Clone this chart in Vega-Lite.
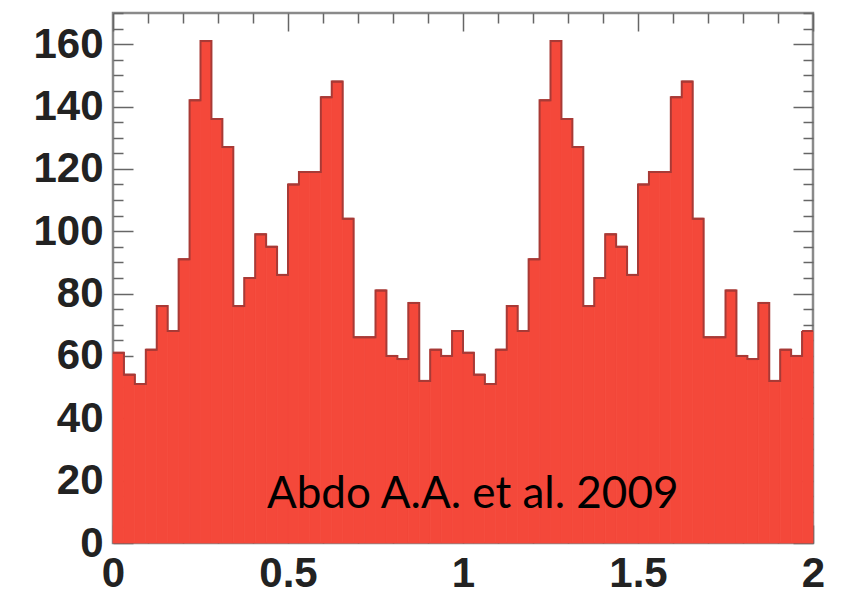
{
  "$schema": "https://vega.github.io/schema/vega-lite/v6.json",
  "width": 700,
  "height": 530,
  "autosize": {"type": "none"},
  "padding": {"left": 113, "top": 13, "right": 32, "bottom": 51},
  "background": "white",
  "config": {
    "view": {"stroke": "#8a8a8a", "strokeWidth": 2.5},
    "axis": {
      "domain": false,
      "grid": false,
      "tickColor": "#666666",
      "tickWidth": 1.5,
      "labelFont": "Liberation Sans",
      "labelFontWeight": "bold",
      "labelFontSize": 42,
      "labelColor": "#222222",
      "labelOverlap": false,
      "zindex": 1,
      "title": null
    }
  },
  "datasets": {
    "hist": [
      {"start": 0, "end": 0.03125, "count": 61},
      {"start": 0.03125, "end": 0.0625, "count": 54},
      {"start": 0.0625, "end": 0.09375, "count": 51},
      {"start": 0.09375, "end": 0.125, "count": 62},
      {"start": 0.125, "end": 0.15625, "count": 76},
      {"start": 0.15625, "end": 0.1875, "count": 68},
      {"start": 0.1875, "end": 0.21875, "count": 91},
      {"start": 0.21875, "end": 0.25, "count": 142},
      {"start": 0.25, "end": 0.28125, "count": 161},
      {"start": 0.28125, "end": 0.3125, "count": 136},
      {"start": 0.3125, "end": 0.34375, "count": 127},
      {"start": 0.34375, "end": 0.375, "count": 76},
      {"start": 0.375, "end": 0.40625, "count": 85},
      {"start": 0.40625, "end": 0.4375, "count": 99},
      {"start": 0.4375, "end": 0.46875, "count": 95},
      {"start": 0.46875, "end": 0.5, "count": 86},
      {"start": 0.5, "end": 0.53125, "count": 115},
      {"start": 0.53125, "end": 0.5625, "count": 119},
      {"start": 0.5625, "end": 0.59375, "count": 119},
      {"start": 0.59375, "end": 0.625, "count": 143},
      {"start": 0.625, "end": 0.65625, "count": 148},
      {"start": 0.65625, "end": 0.6875, "count": 104},
      {"start": 0.6875, "end": 0.71875, "count": 66},
      {"start": 0.71875, "end": 0.75, "count": 66},
      {"start": 0.75, "end": 0.78125, "count": 81},
      {"start": 0.78125, "end": 0.8125, "count": 60},
      {"start": 0.8125, "end": 0.84375, "count": 59},
      {"start": 0.84375, "end": 0.875, "count": 77},
      {"start": 0.875, "end": 0.90625, "count": 52},
      {"start": 0.90625, "end": 0.9375, "count": 62},
      {"start": 0.9375, "end": 0.96875, "count": 60},
      {"start": 0.96875, "end": 1, "count": 68},
      {"start": 1, "end": 1.03125, "count": 61},
      {"start": 1.03125, "end": 1.0625, "count": 54},
      {"start": 1.0625, "end": 1.09375, "count": 51},
      {"start": 1.09375, "end": 1.125, "count": 62},
      {"start": 1.125, "end": 1.15625, "count": 76},
      {"start": 1.15625, "end": 1.1875, "count": 68},
      {"start": 1.1875, "end": 1.21875, "count": 91},
      {"start": 1.21875, "end": 1.25, "count": 142},
      {"start": 1.25, "end": 1.28125, "count": 161},
      {"start": 1.28125, "end": 1.3125, "count": 136},
      {"start": 1.3125, "end": 1.34375, "count": 127},
      {"start": 1.34375, "end": 1.375, "count": 76},
      {"start": 1.375, "end": 1.40625, "count": 85},
      {"start": 1.40625, "end": 1.4375, "count": 99},
      {"start": 1.4375, "end": 1.46875, "count": 95},
      {"start": 1.46875, "end": 1.5, "count": 86},
      {"start": 1.5, "end": 1.53125, "count": 115},
      {"start": 1.53125, "end": 1.5625, "count": 119},
      {"start": 1.5625, "end": 1.59375, "count": 119},
      {"start": 1.59375, "end": 1.625, "count": 143},
      {"start": 1.625, "end": 1.65625, "count": 148},
      {"start": 1.65625, "end": 1.6875, "count": 104},
      {"start": 1.6875, "end": 1.71875, "count": 66},
      {"start": 1.71875, "end": 1.75, "count": 66},
      {"start": 1.75, "end": 1.78125, "count": 81},
      {"start": 1.78125, "end": 1.8125, "count": 60},
      {"start": 1.8125, "end": 1.84375, "count": 59},
      {"start": 1.84375, "end": 1.875, "count": 77},
      {"start": 1.875, "end": 1.90625, "count": 52},
      {"start": 1.90625, "end": 1.9375, "count": 62},
      {"start": 1.9375, "end": 1.96875, "count": 60},
      {"start": 1.96875, "end": 2, "count": 68}
    ],
    "note": [
      {"label": "Abdo A.A. et al. 2009", "phase": 0.44, "level": 11.2}
    ]
  },
  "resolve": {"axis": {"x": "independent", "y": "independent"}},
  "layer": [
    {
      "data": {"name": "hist"},
      "mark": {"type": "bar", "fill": "#f4483a", "stroke": "#f4483a", "strokeWidth": 0.8},
      "encoding": {
        "x": {
          "field": "start", "type": "quantitative",
          "scale": {"domain": [0, 2], "nice": false, "zero": false},
          "axis": {
            "orient": "bottom",
            "values": [0, 0.1, 0.2, 0.3, 0.4, 0.5, 0.6, 0.7, 0.8, 0.9, 1, 1.1, 1.2, 1.3, 1.4, 1.5, 1.6, 1.7, 1.8, 1.9, 2],
            "labelExpr": "abs(datum.value*2 - round(datum.value*2)) < 0.001 ? '' + datum.value : ''",
            "tickSize": {"condition": {"test": "abs(datum.value*2 - round(datum.value*2)) < 0.001", "value": -18}, "value": -10},
            "labelPadding": 28,
            "labelFlush": false
          }
        },
        "x2": {"field": "end"},
        "y": {
          "field": "count", "type": "quantitative",
          "scale": {"domain": [0, 170], "nice": false},
          "axis": {
            "orient": "left",
            "values": [0, 5, 10, 15, 20, 25, 30, 35, 40, 45, 50, 55, 60, 65, 70, 75, 80, 85, 90, 95, 100, 105, 110, 115, 120, 125, 130, 135, 140, 145, 150, 155, 160, 165, 170],
            "labelExpr": "datum.value % 20 === 0 && datum.value <= 160 ? '' + datum.value : ''",
            "tickSize": {"condition": {"test": "datum.value % 20 === 0", "value": -20}, "value": -10},
            "labelPadding": 30,
            "labelFlush": false
          }
        },
        "y2": {"datum": 0}
      }
    },
    {
      "data": {"name": "hist"},
      "mark": {"type": "line", "interpolate": "step-after", "color": "#a83a36", "strokeWidth": 2},
      "encoding": {
        "x": {
          "field": "start", "type": "quantitative",
          "axis": {
            "orient": "top",
            "values": [0, 0.1, 0.2, 0.3, 0.4, 0.5, 0.6, 0.7, 0.8, 0.9, 1, 1.1, 1.2, 1.3, 1.4, 1.5, 1.6, 1.7, 1.8, 1.9, 2],
            "labels": false,
            "tickSize": {"condition": {"test": "abs(datum.value*2 - round(datum.value*2)) < 0.001", "value": -18}, "value": -10}
          }
        },
        "y": {
          "field": "count", "type": "quantitative",
          "axis": {
            "orient": "right",
            "values": [0, 5, 10, 15, 20, 25, 30, 35, 40, 45, 50, 55, 60, 65, 70, 75, 80, 85, 90, 95, 100, 105, 110, 115, 120, 125, 130, 135, 140, 145, 150, 155, 160, 165, 170],
            "labels": false,
            "tickSize": {"condition": {"test": "datum.value % 20 === 0", "value": -20}, "value": -10}
          }
        }
      }
    },
    {
      "data": {"name": "hist"},
      "mark": {"type": "rule", "color": "#a83a36", "strokeWidth": 2},
      "encoding": {
        "x": {"field": "start", "type": "quantitative", "axis": null},
        "x2": {"field": "end"},
        "y": {"field": "count", "type": "quantitative", "axis": null}
      }
    },
    {
      "data": {"name": "note"},
      "mark": {"type": "text", "font": "Lato", "fontSize": 44, "color": "#000000", "align": "left", "baseline": "alphabetic"},
      "encoding": {
        "x": {"field": "phase", "type": "quantitative", "axis": null},
        "y": {"field": "level", "type": "quantitative", "axis": null},
        "text": {"field": "label"}
      }
    }
  ]
}
